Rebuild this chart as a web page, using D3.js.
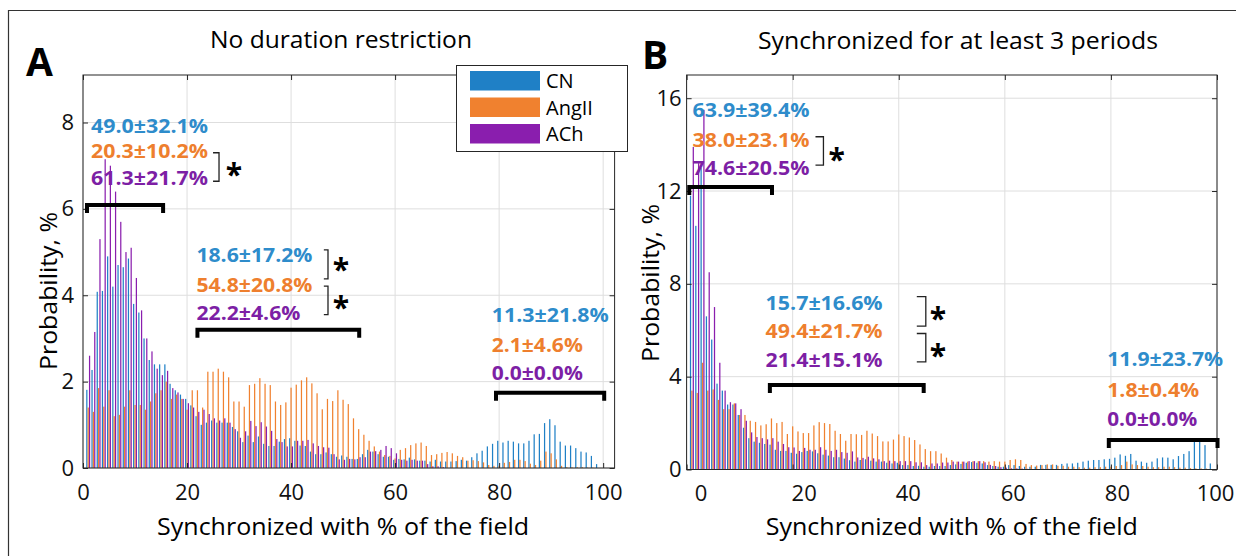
<!DOCTYPE html>
<html>
<head>
<meta charset="utf-8">
<script src="https://cdn.jsdelivr.net/npm/d3@7"></script>
<style>
  body { margin: 0; background: #fff; }
  svg { display: block; font-family: "Open Sans", sans-serif; }
</style>
</head>
<body>
<div id="container"></div>
<script>
// series and colours
const series = ["CN", "AngII", "ACh"];
const barColors = ["#1f80c6", "#f0812f", "#8a1eae"];
const textColors = ["#2e8ccb", "#ee7f2e", "#7d1fa5"];

// histogram bins (% of the field), 1..100
const bins = d3.range(1, 101);

// panel A: no duration restriction (probability, %)
const cnA = [
  1.81, 2.27, 4.08, 4.1, 4.9, 4.2, 4.7, 4.65, 4.85, 3.8,
  3.6, 3.0, 2.5, 2.4, 2.4, 2.4, 1.95, 1.8, 1.7, 1.6,
  1.45, 1.2, 1.0, 1.05, 1.1, 1.05, 1.05, 1.05, 0.95, 0.85,
  0.6, 0.75, 0.6, 0.73, 0.56, 0.51, 0.51, 0.61, 0.67, 0.69,
  0.63, 0.52, 0.51, 0.38, 0.32, 0.32, 0.36, 0.32, 0.26, 0.29,
  0.26, 0.21, 0.21, 0.32, 0.42, 0.38, 0.32, 0.26, 0.26, 0.19,
  0.21, 0.2, 0.24, 0.2, 0.17, 0.17, 0.15, 0.19, 0.15, 0.15,
  0.15, 0.16, 0.19, 0.17, 0.25, 0.34, 0.4, 0.5, 0.56, 0.63,
  0.59, 0.63, 0.61, 0.57, 0.57, 0.63, 0.78, 0.79, 1.04, 1.13,
  0.99, 0.61, 0.52, 0.52, 0.46, 0.38, 0.36, 0.28, 0.09, 0
];
const angA = [
  1.4, 1.3, 1.85, 1.42, 1.8, 1.2, 1.23, 1.42, 1.8, 1.46,
  1.46, 1.35, 1.54, 1.73, 1.8, 2.0, 1.6, 1.7, 1.6, 1.35,
  1.8, 1.8, 1.4, 2.23, 2.23, 2.3, 2.23, 2.1, 1.54, 1.54,
  1.42, 1.92, 1.95, 2.08, 1.95, 1.92, 1.54, 1.46, 1.52, 1.86,
  1.93, 2.03, 2.1, 1.96, 1.73, 1.36, 1.6, 1.55, 1.8, 1.58,
  1.48, 1.15, 0.9, 0.77, 0.63, 0.5, 0.38, 0.3, 0.28, 0.22,
  0.42, 0.46, 0.53, 0.57, 0.59, 0.51, 0.3, 0.32, 0.35, 0.37,
  0.34, 0.28, 0.25, 0.17, 0.18, 0.16, 0.13, 0.07, 0.05, 0.05,
  0.12, 0.14, 0.19, 0.19, 0.16, 0.1, 0.07, 0.17, 0.38, 0.34,
  0.2, 0.05, 0.02, 0.02, 0.02, 0.02, 0.01, 0.01, 0, 0
];
const achA = [
  2.6, 3.15, 5.3, 7.15, 7.0, 6.4, 5.7, 5.0, 5.1, 4.4,
  3.65, 3.0, 2.7, 2.3, 2.15, 2.25, 1.85, 1.75, 1.6, 1.5,
  1.4, 1.3, 1.35, 1.25, 1.15, 1.1, 1.15, 1.05, 0.9, 0.7,
  0.85, 1.09, 0.97, 1.06, 0.96, 0.86, 0.67, 0.6, 0.5, 0.5,
  0.63, 0.63, 0.65, 0.57, 0.51, 0.48, 0.47, 0.32, 0.2, 0.19,
  0.21, 0.2, 0.25, 0.25, 0.38, 0.39, 0.42, 0.51, 0.46, 0.34,
  0.19, 0.17, 0.19, 0.17, 0.17, 0.09, 0.04, 0.04, 0.02, 0,
  0, 0, 0, 0, 0, 0, 0, 0, 0, 0,
  0, 0, 0, 0, 0, 0, 0, 0, 0, 0,
  0, 0, 0, 0, 0, 0, 0, 0, 0, 0
];

// panel B: synchronized for at least 3 periods
const cnB = [
  11.8, 10.5, 13.0, 6.6, 5.6, 3.7, 3.4, 2.8, 2.8, 2.35,
  1.8, 1.35, 1.2, 1.15, 1.1, 1.07, 0.85, 0.8, 0.8, 0.72,
  0.68, 0.75, 0.8, 0.78, 0.7, 0.64, 0.6, 0.53, 0.53, 0.47,
  0.4, 0.34, 0.41, 0.44, 0.38, 0.34, 0.34, 0.29, 0.26, 0.29,
  0.19, 0.19, 0.15, 0.16, 0.12, 0.12, 0.15, 0.15, 0.15, 0.19,
  0.22, 0.24, 0.29, 0.32, 0.29, 0.26, 0.19, 0.15, 0.12, 0.12,
  0.19, 0.19, 0.15, 0.12, 0.12, 0.12, 0.2, 0.2, 0.2, 0.2,
  0.24, 0.26, 0.26, 0.29, 0.34, 0.38, 0.41, 0.41, 0.44, 0.46,
  0.51, 0.65, 0.59, 0.67, 0.38, 0.34, 0.29, 0.34, 0.48, 0.52,
  0.51, 0.44, 0.58, 0.67, 0.79, 1.19, 1.19, 1.05, 0.26, 0
];
const angB = [
  3.4, 3.3, 4.6, 3.4, 3.45, 3.0, 2.6, 2.6, 2.85, 2.35,
  2.35, 2.1, 2.05, 1.9, 1.95, 2.2, 2.0, 2.05, 1.53, 1.86,
  1.64, 1.57, 1.57, 1.9, 2.04, 2.0, 1.96, 1.67, 1.53, 1.24,
  1.53, 1.52, 1.49, 1.67, 1.55, 1.44, 1.21, 1.21, 1.29, 1.51,
  1.44, 1.38, 1.27, 1.08, 0.88, 0.79, 0.79, 0.69, 0.51, 0.41,
  0.34, 0.34, 0.34, 0.36, 0.36, 0.36, 0.34, 0.36, 0.34, 0.34,
  0.41, 0.44, 0.41, 0.24, 0.19, 0.17, 0.19, 0.22, 0.22, 0.16,
  0.16, 0.12, 0.12, 0.1, 0.08, 0.08, 0.1, 0.1, 0.12, 0.12,
  0.15, 0.19, 0.34, 0.22, 0.19, 0.15, 0.12, 0.1, 0.1, 0.12,
  0.12, 0.1, 0.08, 0.08, 0.06, 0.05, 0.05, 0.04, 0.02, 0
];
const achB = [
  13.9, 13.2, 15.5, 8.5, 7.0, 4.6, 3.4, 2.9, 2.85, 2.6,
  2.1, 1.6, 1.4, 1.35, 1.3, 1.35, 1.2, 1.1, 0.96, 0.95,
  0.8, 0.93, 0.85, 0.85, 0.96, 0.85, 0.8, 0.85, 0.75, 0.72,
  0.78, 0.52, 0.5, 0.55, 0.48, 0.44, 0.36, 0.38, 0.36, 0.36,
  0.36, 0.36, 0.31, 0.31, 0.19, 0.26, 0.26, 0.3, 0.3, 0.34,
  0.34, 0.34, 0.36, 0.36, 0.36, 0.31, 0.2, 0.15, 0.1, 0.08,
  0.05, 0.05, 0.04, 0.03, 0.02, 0.02, 0.03, 0.03, 0.02, 0.02,
  0, 0, 0, 0, 0, 0, 0, 0, 0, 0,
  0, 0, 0, 0, 0, 0, 0, 0, 0, 0,
  0, 0, 0, 0, 0, 0, 0, 0, 0, 0
];

// tick values
const xTicks = [0, 20, 40, 60, 80, 100];
const yTicksA = [0, 2, 4, 6, 8];
const yTicksB = [0, 4, 8, 12, 16];

// group statistics written on the plots (mean ± sd), in data coordinates
const statsA = [
  { t: "49.0±32.1%", c: 0, x: 1.54, y: 7.76, w: 117 },
  { t: "20.3±10.2%", c: 1, x: 1.54, y: 7.18, w: 117 },
  { t: "61.3±21.7%", c: 2, x: 1.54, y: 6.55, w: 117 },
  { t: "18.6±17.2%", c: 0, x: 21.8, y: 4.76, w: 116 },
  { t: "54.8±20.8%", c: 1, x: 21.8, y: 4.08, w: 116 },
  { t: "22.2±4.6%", c: 2, x: 21.8, y: 3.43, w: 104 },
  { t: "11.3±21.8%", c: 0, x: 78.6, y: 3.39, w: 117 },
  { t: "2.1±4.6%", c: 1, x: 78.6, y: 2.69, w: 91 },
  { t: "0.0±0.0%", c: 2, x: 78.6, y: 2.04, w: 91 }
];
const statsB = [
  { t: "63.9±39.4%", c: 0, x: 1.13, y: 15.2, w: 117 },
  { t: "38.0±23.1%", c: 1, x: 1.13, y: 13.91, w: 117 },
  { t: "74.6±20.5%", c: 2, x: 1.13, y: 12.69, w: 117 },
  { t: "15.7±16.6%", c: 0, x: 14.9, y: 6.87, w: 117 },
  { t: "49.4±21.7%", c: 1, x: 14.9, y: 5.65, w: 117 },
  { t: "21.4±15.1%", c: 2, x: 14.9, y: 4.43, w: 117 },
  { t: "11.9±23.7%", c: 0, x: 79.3, y: 4.46, w: 116 },
  { t: "1.8±0.4%", c: 1, x: 79.3, y: 3.14, w: 92 },
  { t: "0.0±0.0%", c: 2, x: 79.3, y: 1.87, w: 90 }
];

// ranges the statistics refer to
const rangesA = [[0.77, 15.4, 6.09], [22.0, 53.1, 3.2], [79.4, 100.2, 1.74]];
const rangesB = [[0.5, 16.1, 12.17], [15.7, 44.7, 3.64], [79.6, 100.1, 1.27]];

// significance marks: [x1, x2, yTop, yBottom, starX, starY]
const sigA = [
  [25.0, 26.15, 7.3, 6.64, 29.0, 6.99],
  [46.3, 47.1, 5.05, 4.38, 49.6, 4.79],
  [46.3, 47.1, 4.21, 3.55, 49.6, 3.91]
];
const sigB = [
  [24.3, 25.8, 14.34, 13.12, 28.3, 13.72],
  [43.4, 45.1, 7.45, 6.18, 47.4, 6.87],
  [43.4, 45.1, 5.86, 4.64, 47.4, 5.28]
];

var W = 1236;
var H = 556;

var svg = d3
  .select("#container")
  .append("svg")
  .attr("width", W)
  .attr("height", H);

// figure frame (only top & left edges are inside the crop)
svg.append("path")
  .attr("d", "M8.5,556 V10.5 H1236")
  .attr("fill", "none")
  .attr("stroke", "#333")
  .attr("stroke-width", 1.2);

var panels = [
  {
    id: "A", title: "No duration restriction", titleW: 262,
    data: [cnA, angA, achA],
    left: 83, right: 614.6, top: 75, bottom: 468,
    xDomain: [0, 102.2], yDomain: [0, 9.1], yTicks: yTicksA, yPad: 9,
    labelShift: [0, 0, 0, 0, 0, 0],
    letter: [26, 76], titleX: 341, titleY: 48, yLabelX: 57, yLabelY: 291,
    stats: statsA, ranges: rangesA, sig: sigA
  },
  {
    id: "B", title: "Synchronized for at least 3 periods", titleW: 400,
    data: [cnB, angB, achB],
    left: 686.6, right: 1217, top: 75, bottom: 469.5,
    xDomain: [0, 100], yDomain: [0, 17], yTicks: yTicksB, yPad: 5,
    labelShift: [14, 11, 9, 8, 6, -2],
    letter: [642, 69], titleX: 958, titleY: 49, yLabelX: 659, yLabelY: 283,
    stats: statsB, ranges: rangesB, sig: sigB
  }
];

panels.forEach(drawPanel);
drawLegend();

function drawPanel(p) {
  var x = d3.scaleLinear().domain(p.xDomain).range([p.left, p.right]);
  var y = d3.scaleLinear().domain(p.yDomain).range([p.bottom, p.top]);
  // position of each series inside a bin
  var inner = d3.scaleBand().domain(series).range([-0.38, 0.38]).paddingInner(0.1);

  var g = svg.append("g").attr("class", "panel-" + p.id);

  g.append("clipPath")
    .attr("id", "clip-" + p.id)
    .append("rect")
    .attr("x", p.left)
    .attr("y", p.top)
    .attr("width", p.right - p.left)
    .attr("height", p.bottom - p.top);

  // grid
  g.selectAll(".vgrid")
    .data(xTicks)
    .enter()
    .append("line")
    .attr("x1", (d) => x(d))
    .attr("x2", (d) => x(d))
    .attr("y1", p.top)
    .attr("y2", p.bottom)
    .attr("stroke", "#dedede");
  g.selectAll(".hgrid")
    .data(p.yTicks)
    .enter()
    .append("line")
    .attr("x1", p.left)
    .attr("x2", p.right)
    .attr("y1", (d) => y(d))
    .attr("y2", (d) => y(d))
    .attr("stroke", "#dedede");

  // bars
  var bars = g.append("g").attr("clip-path", "url(#clip-" + p.id + ")");
  series.forEach((s, k) => {
    bars
      .append("g")
      .attr("fill", barColors[k])
      .selectAll("rect")
      .data(p.data[k])
      .enter()
      .append("rect")
      .attr("x", (d, i) => x(bins[i] + inner(s)))
      .attr("width", x(inner.bandwidth()) - x(0))
      .attr("y", (d) => y(d))
      .attr("height", (d) => y(0) - y(d));
  });

  // axes, ticks point inwards like MATLAB
  var xAxis = g
    .append("g")
    .attr("transform", "translate(0," + p.bottom + ")")
    .call(d3.axisBottom(x).tickValues(xTicks).tickSizeInner(-5).tickSizeOuter(0).tickPadding(16));
  xAxis.selectAll("text").attr("dx", (d, i) => p.labelShift[i]);
  g.append("g")
    .attr("transform", "translate(0," + p.top + ")")
    .call(d3.axisTop(x).tickValues(xTicks).tickSizeInner(-5).tickSizeOuter(0).tickFormat(""));
  g.append("g")
    .attr("transform", "translate(" + p.left + ",0)")
    .call(d3.axisLeft(y).tickValues(p.yTicks).tickSizeInner(-5).tickSizeOuter(0).tickPadding(p.yPad));
  g.append("g")
    .attr("transform", "translate(" + p.right + ",0)")
    .call(d3.axisRight(y).tickValues(p.yTicks).tickSizeInner(-5).tickSizeOuter(0).tickFormat(""));

  g.selectAll(".domain").remove();
  g.selectAll(".tick line").attr("stroke", "#262626");
  g.selectAll(".tick text")
    .attr("font-size", 22)
    .attr("font-family", "Open Sans, sans-serif")
    .attr("fill", "#111");

  g.append("rect")
    .attr("x", p.left)
    .attr("y", p.top)
    .attr("width", p.right - p.left)
    .attr("height", p.bottom - p.top)
    .attr("fill", "none")
    .attr("stroke", "#262626");

  // titles and labels
  g.append("text")
    .attr("x", p.letter[0])
    .attr("y", p.letter[1])
    .attr("font-size", 39)
    .attr("font-weight", "bold")
    .text(p.id);
  g.append("text")
    .attr("x", p.titleX)
    .attr("y", p.titleY)
    .attr("text-anchor", "middle")
    .attr("font-size", 23)
    .attr("textLength", p.titleW)
    .attr("lengthAdjust", "spacingAndGlyphs")
    .text(p.title);
  g.append("text")
    .attr("x", (p.left + x(100)) / 2)
    .attr("y", 535)
    .attr("text-anchor", "middle")
    .attr("font-size", 24)
    .attr("textLength", 372)
    .attr("lengthAdjust", "spacingAndGlyphs")
    .text("Synchronized with % of the field");
  g.append("text")
    .attr("transform", "translate(" + p.yLabelX + "," + p.yLabelY + ") rotate(-90)")
    .attr("text-anchor", "middle")
    .attr("font-size", 24)
    .attr("textLength", 158)
    .attr("lengthAdjust", "spacingAndGlyphs")
    .text("Probability, %");

  // statistics
  g.selectAll(".stat")
    .data(p.stats)
    .enter()
    .append("text")
    .attr("x", (d) => x(d.x))
    .attr("y", (d) => y(d.y))
    .attr("font-size", 20)
    .attr("font-weight", "bold")
    .attr("fill", (d) => textColors[d.c])
    .attr("textLength", (d) => d.w)
    .attr("lengthAdjust", "spacingAndGlyphs")
    .text((d) => d.t);

  // thick range brackets
  g.selectAll(".range")
    .data(p.ranges)
    .enter()
    .append("path")
    .attr("d", (d) => {
      var y0 = y(d[2]);
      return "M" + x(d[0]) + "," + (y0 + 8) + "V" + y0 + "H" + x(d[1]) + "V" + (y0 + 8);
    })
    .attr("fill", "none")
    .attr("stroke", "#000")
    .attr("stroke-width", 4);

  // significance brackets and stars
  g.selectAll(".sig")
    .data(p.sig)
    .enter()
    .append("path")
    .attr("d", (d) => "M" + x(d[0]) + "," + y(d[2]) + "H" + x(d[1]) + "V" + y(d[3]) + "H" + x(d[0]))
    .attr("fill", "none")
    .attr("stroke", "#222")
    .attr("stroke-width", 1.3);
  g.selectAll(".star")
    .data(p.sig)
    .enter()
    .append("text")
    .attr("x", (d) => x(d[4]))
    .attr("y", (d) => y(d[5]))
    .attr("dy", "0.62em")
    .attr("text-anchor", "middle")
    .attr("font-size", 30)
    .attr("font-weight", "bold")
    .text("*");
}

function drawLegend() {
  var lg = svg.append("g").attr("transform", "translate(456,65)");
  lg.append("rect")
    .attr("x", 0.5)
    .attr("y", 0.5)
    .attr("width", 171)
    .attr("height", 86)
    .attr("fill", "#fff")
    .attr("stroke", "#262626");
  var item = lg
    .selectAll(".item")
    .data(series)
    .enter()
    .append("g")
    .attr("transform", (d, i) => "translate(14," + (6 + i * 26.5) + ")");
  item.append("rect")
    .attr("width", 70)
    .attr("height", 19.5)
    .attr("fill", (d, i) => barColors[i]);
  item.append("text")
    .attr("x", 76)
    .attr("y", 17)
    .attr("font-size", 20)
    .text((d) => d);
}
</script>
</body>
</html>
